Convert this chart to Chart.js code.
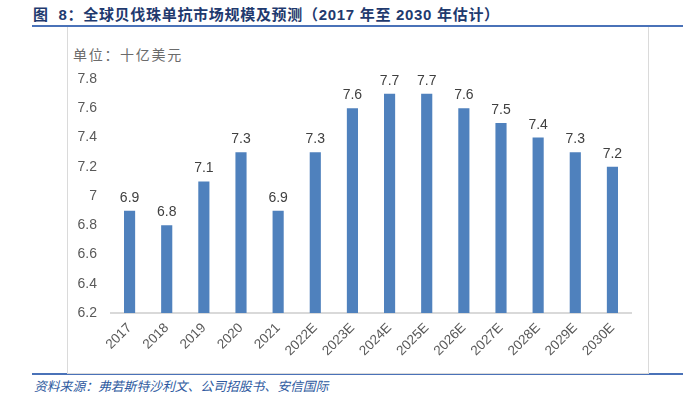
<!DOCTYPE html>
<html>
<head>
<meta charset="utf-8">
<script src="https://cdn.jsdelivr.net/npm/chart.js@4/dist/chart.umd.min.js"></script>
<style>
  html, body { margin: 0; padding: 0; background: #fff; }
  #wrap { position: relative; width: 700px; height: 393px; overflow: hidden; }
  #title { position: absolute; left: 33px; top: 6px; font-family: "Liberation Sans", "Noto Sans CJK SC", sans-serif; font-weight: bold; font-size: 15px; letter-spacing: 0.7px; color: #1F3A6E; white-space: pre; line-height: 18px; }
  #topline { position: absolute; left: 32px; top: 25px; width: 651px; height: 2px; background: #4A72B8; }
  #box { position: absolute; left: 67px; top: 27px; width: 580px; height: 346px; border-left: 1px solid #DADADA; border-right: 1px solid #DADADA; border-bottom: 1px solid #DADADA; }
  #botline { position: absolute; left: 32px; top: 373px; width: 651px; height: 2px; background: #4A72B8; }
  #unit { position: absolute; left: 73px; top: 45px; font-family: "Noto Sans CJK SC", sans-serif; font-size: 14px; color: #6b6b6b; line-height: 18px; letter-spacing: 1.7px; white-space: nowrap; }
  #foot { position: absolute; left: 34px; top: 378px; font-family: "Noto Sans CJK SC", sans-serif; font-style: italic; font-size: 12.8px; color: #2E5AA0; line-height: 16px; white-space: nowrap; }
  #c { position: absolute; left: 0; top: 0; }
</style>
</head>
<body>
<div id="wrap">
  <div id="topline"></div>
  <div id="botline"></div>
  <div id="box"></div>
  <div id="title">图  8：全球贝伐珠单抗市场规模及预测（2017 年至 2030 年估计）</div>
  <div id="unit">单位：十亿美元</div>
  <div id="foot">资料来源：弗若斯特沙利文、公司招股书、安信国际</div>
  <canvas id="c" width="700" height="393"></canvas>
</div>
<script>
const categories = ["2017","2018","2019","2020","2021","2022E","2023E","2024E","2025E","2026E","2027E","2028E","2029E","2030E"];
const marketSize = [6.9, 6.8, 7.1, 7.3, 6.9, 7.3, 7.6, 7.7, 7.7, 7.6, 7.5, 7.4, 7.3, 7.2];
const yTicks = [6.2, 6.4, 6.6, 6.8, 7, 7.2, 7.4, 7.6, 7.8];

const valueLabels = {
  id: 'valueLabels',
  afterDatasetsDraw(chart) {
    const ctx = chart.ctx;
    const meta = chart.getDatasetMeta(0);
    ctx.save();
    ctx.font = '14px "Liberation Sans", Arial, sans-serif';
    ctx.fillStyle = '#404040';
    ctx.textAlign = 'center';
    ctx.textBaseline = 'alphabetic';
    meta.data.forEach((bar, i) => {
      ctx.fillText(String(chart.data.datasets[0].data[i]), bar.x, bar.y - 9);
    });
    ctx.restore();
  }
};

new Chart(document.getElementById('c'), {
  type: 'bar',
  data: {
    labels: categories,
    datasets: [{
      data: marketSize,
      backgroundColor: '#4F81BD',
      borderWidth: 0,
      barPercentage: 0.3,
      categoryPercentage: 1.0
    }]
  },
  options: {
    responsive: false,
    animation: false,
    devicePixelRatio: 1,
    layout: { padding: { left: 0, right: 69, top: 79, bottom: 20 } },
    plugins: { legend: { display: false }, tooltip: { enabled: false } },
    scales: {
      x: {
        grid: { display: false, drawTicks: false },
        border: { display: true, color: '#D9D9D9', width: 2 },
        ticks: {
          color: '#595959',
          font: { family: '"Liberation Sans", Arial, sans-serif', size: 13.5 },
          minRotation: 45, maxRotation: 45, padding: 7, autoSkip: false
        },
        afterFit(scale) { scale.height = 60; }
      },
      y: {
        min: 6.2, max: 7.8,
        grid: { display: false, drawTicks: false },
        border: { display: false },
        afterBuildTicks(scale) { scale.ticks = yTicks.map(v => ({ value: v })); },
        ticks: {
          color: '#595959',
          font: { family: '"Liberation Sans", Arial, sans-serif', size: 14 },
          padding: 14,
          callback: (value, index) => String(yTicks[index])
        },
        afterFit(scale) { scale.width = 111; }
      }
    }
  },
  plugins: [valueLabels]
});
</script>
</body>
</html>
